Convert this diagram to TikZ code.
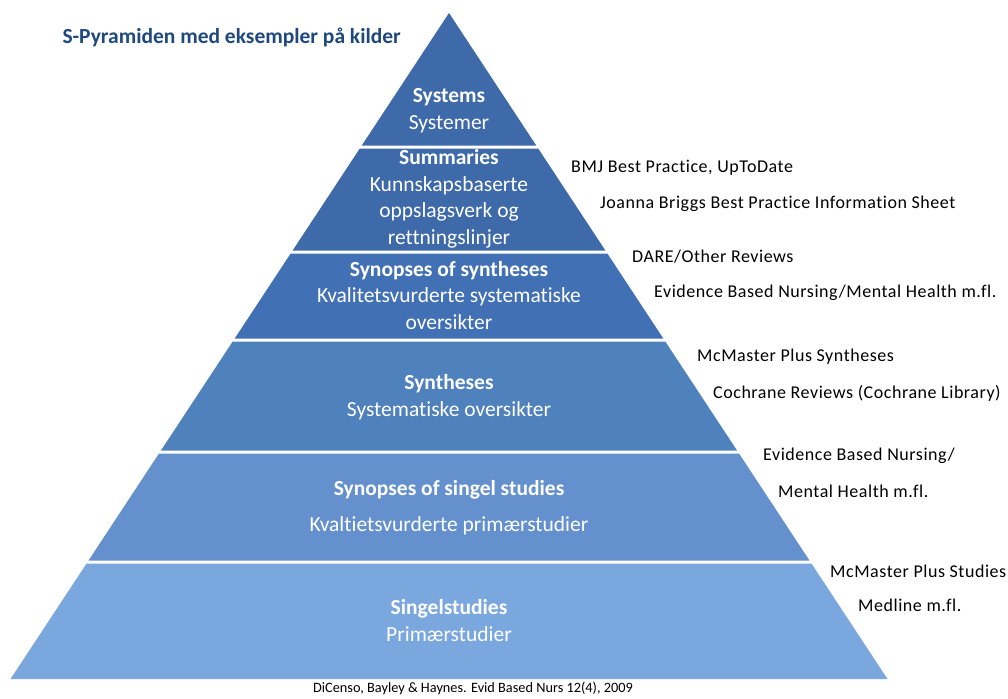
\documentclass[tikz,border=0pt]{standalone}
\usepackage{fontspec}
\setmainfont[Ligatures=NoCommon]{Carlito}
\newfontfamily\srcfont[LetterSpace=3, Ligatures=NoCommon]{Carlito}
\usetikzlibrary{positioning}
\definecolor{titleblue}{RGB}{31,73,125}
\definecolor{bandA}{RGB}{62,106,170}
\definecolor{bandB}{RGB}{65,112,180}
\definecolor{bandC}{RGB}{79,129,189}
\definecolor{bandD}{RGB}{100,145,205}
\definecolor{bandE}{RGB}{122,167,222}
\begin{document}
\begin{tikzpicture}[x=1pt, y=-1pt,
level/.style={text=white, align=center, font=\fontsize{21.5}{26.5}\selectfont},
source/.style={anchor=west, inner sep=0pt, font=\srcfont\fontsize{18}{20}\selectfont},
]
\useasboundingbox (0,0) rectangle (1008,698);
% the pyramid, one band at a time
\foreach \top/\bot/\col in {13/145.5/bandA, 148.5/250.5/bandA, 253.5/338.5/bandB,
    341.5/450.5/bandC, 453.5/560.5/bandD, 563.5/679/bandE}{
  \fill[\col] ({449-(\top-13)*0.6584},\top) -- ({449+(\top-13)*0.6584},\top)
    -- ({449+(\bot-13)*0.6584},\bot) -- ({449-(\bot-13)*0.6584},\bot) -- cycle;
}
\node (title) [anchor=west, text=titleblue, font=\fontsize{21.5}{24}\selectfont\bfseries] at (59,37) {S-Pyramiden med eksempler på kilder};
% levels
\node (systems) [level] at (449,110.5) {\textbf{Systems}\\Systemer};
\node (summaries) [level] at (449,199) {\textbf{Summaries}\\Kunnskapsbaserte\\oppslagsverk og\\rettningslinjer};
\node (synsyn) [level] at (449,295.5) {\textbf{Synopses of syntheses}\\Kvalitetsvurderte systematiske\\oversikter};
\node (syntheses) [level] at (449,397) {\textbf{Syntheses}\\Systematiske oversikter};
\node (synsingel) [level] at (449,507.5) {\textbf{Synopses of singel studies}\\[10pt]Kvaltietsvurderte primærstudier};
\node (singel) [level] at (449,620.5) {\textbf{Singelstudies}\\Primærstudier};
% sources
\node (bmj) [source] at (571,168) {BMJ Best Practice, UpToDate};
\node (joanna) [source] at (600,204) {Joanna Briggs Best Practice Information Sheet};
\node (dare) [source] at (632,257) {DARE/Other Reviews};
\node (ebn) [source] at (654,293) {Evidence Based Nursing/Mental Health m.fl.};
\node (mcsyn) [source] at (697,357) {McMaster Plus Syntheses};
\node (cochrane) [source] at (713,393) {Cochrane Reviews (Cochrane Library)};
\node (ebnA) [source] at (763,456) {Evidence Based Nursing/};
\node (ebnB) [source] at (778,491) {Mental Health m.fl.};
\node (mcstud) [source] at (830,571) {McMaster Plus Studies};
\node (medline) [source] at (858,605) {Medline m.fl.};
\node (ref) [font=\fontsize{14.3}{16}\selectfont] at (473,688) {DiCenso, Bayley \& Haynes. Evid Based Nurs 12(4), 2009};
\end{tikzpicture}
\end{document}
